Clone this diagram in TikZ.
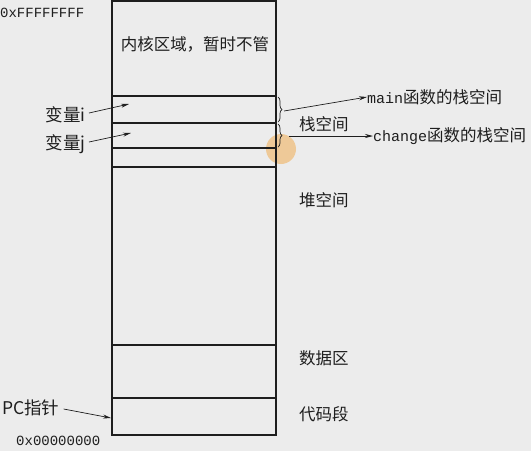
\documentclass[tikz,border=0pt]{standalone}
\usepackage{fontspec}
\setmainfont{Noto Sans CJK SC}
\newfontfamily\monof{Liberation Mono}
\usetikzlibrary{arrows.meta,decorations.pathreplacing}
\definecolor{bg}{HTML}{ECECEC}
\definecolor{ink}{HTML}{1E1E1E}
\definecolor{hl}{HTML}{EFC48A}
\tikzset{
  lbl/.style={font=\fontsize{16.5}{16.5}\selectfont, text=ink, inner sep=0pt},
  side/.style={font=\fontsize{17.5}{17.5}\selectfont, text=ink, inner sep=0pt},
  hex/.style={font=\monof\fontsize{14}{14}\selectfont, text=ink, inner sep=0pt},
  seg/.style={draw=ink, line width=1.1pt},
  ptr/.style={draw=ink, line width=0.7pt, -{Stealth[length=8pt,width=4pt]}},
  brc/.style={draw=ink, line width=0.7pt, decorate, decoration={brace, amplitude=4pt}}
}
\begin{document}
\begin{tikzpicture}[x=1pt,y=-1pt]
\fill[bg] (0,0) rectangle (531,451);
\useasboundingbox (0,0) rectangle (531,451);
% highlight
\fill[hl, opacity=0.85] (281,149) circle (15);
% memory column
\draw[seg] (112,1) rectangle (276,435);
\foreach \yy in {96,123,148,167,345,398} \draw[seg] (112,\yy) -- (276,\yy);
% address labels
\node[hex, anchor=west] (top) at (0,13) {0xFFFFFFFF};
\node[hex, anchor=west] (bot) at (16,441) {0x00000000};
% region labels
\node[lbl] (kern) at (195,44) {内核区域，暂时不管};
\node[lbl, anchor=west] (stack) at (299,124) {栈空间};
\node[lbl, anchor=west] (heap) at (299,200) {堆空间};
\node[lbl, anchor=west] (data) at (299,358) {数据区};
\node[lbl, anchor=west] (code) at (299,414) {代码段};
% variable labels
\node[side, anchor=east] (vi) at (86,115) {变量i};
\node[side, anchor=east] (vj) at (86,144) {变量j};
\node[side, anchor=west] (pc) at (2,408) {PC指针};
\coordinate (ti) at (129,104);
\coordinate (tj) at (131,133);
\coordinate (tpc) at (111,418);
\draw[ptr] (vi.east) ++(3,-2) coordinate (si) -- (ti);
\draw[ptr] (vj.east) ++(3,-2) coordinate (sj) -- (tj);
\draw[ptr] (pc.east) ++(4,1) coordinate (spc) -- (tpc);
% braces
\draw[brc] (278,97) -- (278,122) coordinate[midway] (bm);
\draw[brc] (278,124) -- (278,147) coordinate[midway] (bc);
\node[lbl, anchor=west] (mainl) at (367,97) {{\monof\fontsize{15}{15}\selectfont main}函数的栈空间};
\node[lbl, anchor=west] (chl) at (373,136) {{\monof\fontsize{15}{15}\selectfont change}函数的栈空间};
\coordinate (bmt) at (284,111);
\coordinate (bct) at (289,136);
\draw[ptr] (bmt) -- (mainl.west);
\draw[ptr] (bct) -- (chl.west);
\end{tikzpicture}
\end{document}
